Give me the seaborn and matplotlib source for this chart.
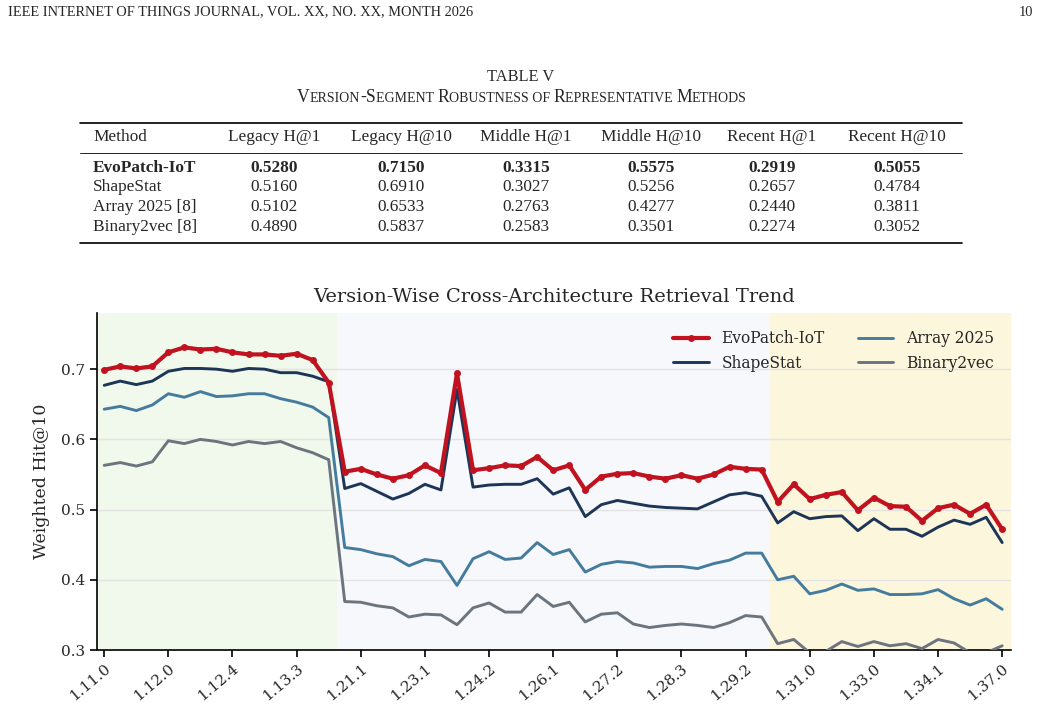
import numpy as np
import pandas as pd
import matplotlib
matplotlib.use("Agg")
import matplotlib.pyplot as plt
from matplotlib.lines import Line2D
import seaborn as sns

# ---- data ----
methods = ["EvoPatch-IoT", "ShapeStat", "Array 2025", "Binary2vec"]

evopatch = [0.699, 0.704, 0.701, 0.704, 0.724, 0.731, 0.728, 0.729, 0.724, 0.721, 0.721, 0.719, 0.722, 0.713, 0.681,
            0.554, 0.558, 0.550, 0.544, 0.549, 0.563, 0.552, 0.694, 0.556, 0.559, 0.563, 0.562, 0.575, 0.556, 0.563,
            0.528, 0.547, 0.551, 0.552, 0.547, 0.544, 0.549, 0.544, 0.550, 0.561, 0.558, 0.557,
            0.511, 0.536, 0.515, 0.521, 0.525, 0.499, 0.517, 0.505, 0.504, 0.484, 0.502, 0.507, 0.494, 0.507, 0.472]
shapestat = [0.677, 0.683, 0.678, 0.683, 0.697, 0.701, 0.701, 0.700, 0.697, 0.701, 0.700, 0.695, 0.695, 0.690, 0.682,
             0.530, 0.537, 0.526, 0.515, 0.523, 0.536, 0.528, 0.671, 0.532, 0.535, 0.536, 0.536, 0.544, 0.522, 0.531,
             0.490, 0.507, 0.513, 0.509, 0.505, 0.503, 0.502, 0.501, 0.511, 0.521, 0.524, 0.519,
             0.481, 0.497, 0.487, 0.490, 0.491, 0.470, 0.487, 0.472, 0.472, 0.462, 0.475, 0.485, 0.479, 0.489, 0.453]
array2025 = [0.643, 0.647, 0.641, 0.649, 0.665, 0.660, 0.668, 0.661, 0.662, 0.665, 0.665, 0.658, 0.653, 0.646, 0.631,
             0.446, 0.443, 0.437, 0.433, 0.420, 0.429, 0.426, 0.392, 0.430, 0.440, 0.429, 0.431, 0.453, 0.436, 0.443,
             0.411, 0.422, 0.426, 0.424, 0.418, 0.419, 0.419, 0.416, 0.423, 0.428, 0.438, 0.438,
             0.400, 0.405, 0.380, 0.385, 0.394, 0.385, 0.387, 0.379, 0.379, 0.380, 0.386, 0.373, 0.364, 0.373, 0.358]
binary2vec = [0.563, 0.567, 0.562, 0.568, 0.598, 0.594, 0.600, 0.597, 0.592, 0.597, 0.594, 0.597, 0.588, 0.581, 0.571,
              0.369, 0.368, 0.363, 0.360, 0.347, 0.351, 0.350, 0.336, 0.360, 0.367, 0.354, 0.354, 0.379, 0.362, 0.368,
              0.340, 0.351, 0.353, 0.337, 0.332, 0.335, 0.337, 0.335, 0.332, 0.339, 0.349, 0.347,
              0.309, 0.315, 0.296, 0.298, 0.312, 0.305, 0.312, 0.306, 0.309, 0.302, 0.315, 0.310, 0.296, 0.296, 0.306]

tick_labels = ["1.11.0", "1.12.0", "1.12.4", "1.13.3", "1.21.1", "1.23.1", "1.24.2", "1.26.1",
               "1.27.2", "1.28.3", "1.29.2", "1.31.0", "1.33.0", "1.34.1", "1.37.0"]
tick_step = 4
segment_edges = [14.5, 41.5]

table_header = ["Method", "Legacy H@1", "Legacy H@10", "Middle H@1", "Middle H@10", "Recent H@1", "Recent H@10"]
table_methods = ["EvoPatch-IoT", "ShapeStat", "Array 2025 [8]", "Binary2vec [8]"]
legacy_h1 = ["0.5280", "0.5160", "0.5102", "0.4890"]
legacy_h10 = ["0.7150", "0.6910", "0.6533", "0.5837"]
middle_h1 = ["0.3315", "0.3027", "0.2763", "0.2583"]
middle_h10 = ["0.5575", "0.5256", "0.4277", "0.3501"]
recent_h1 = ["0.2919", "0.2657", "0.2440", "0.2274"]
recent_h10 = ["0.5055", "0.4784", "0.3811", "0.3052"]

colors = ["#c1121f", "#1d3557", "#457b9d", "#6c757d"]
span_colors = ["#f1f8ec", "#f6f8fb", "#fcf6dc"]

W, H = 1041, 708
def fx(px):
    return px / W
def fy(py):
    return 1 - py / H

sns.set_theme(style="ticks")
plt.rcParams["font.family"] = ["DejaVu Serif"]

fig = plt.figure(figsize=(W / 100, H / 100), dpi=100)
times = "Liberation Serif"

# page header
fig.text(fx(8), fy(12), "IEEE INTERNET OF THINGS JOURNAL, VOL. XX, NO. XX, MONTH 2026",
         family=times, fontsize=10.4, ha="left", va="center")
fig.text(fx(1033), fy(12), "10", family=times, fontsize=10.4, ha="right", va="center")

# table caption (small caps built from pieces)
fig.text(fx(521), fy(77), "TABLE V", family=times, fontsize=11.8, ha="center", va="center")
pieces = [("V", 12.7), ("ERSION", 10.0), ("-", 12.7), ("S", 12.7), ("EGMENT ", 10.0), ("R", 12.7),
          ("OBUSTNESS OF ", 10.0), ("R", 12.7), ("EPRESENTATIVE ", 10.0), ("M", 12.7), ("ETHODS", 10.0)]
fig.canvas.draw()
renderer = fig.canvas.get_renderer()
cap_x = 297
for txt, sz in pieces:
    t = fig.text(fx(cap_x), fy(102), txt, family=times, fontsize=sz, ha="left", va="baseline")
    cap_x += t.get_window_extent(renderer=renderer).width

# table body
rules = [(123, 1.2), (153, 0.6), (243, 1.2)]
for y, lw in rules:
    fig.add_artist(Line2D([fx(80), fx(962)], [fy(y), fy(y)], color="black", lw=lw))

col_x = [93, 274, 401, 526, 651, 772, 897]
tsize = 12.4
fig.text(fx(col_x[0]), fy(137), table_header[0], family=times, fontsize=tsize, ha="left", va="center")
for cx, head in zip(col_x[1:], table_header[1:]):
    fig.text(fx(cx), fy(137), head, family=times, fontsize=tsize, ha="center", va="center")
row_y = [168, 187, 207, 227]
columns = [legacy_h1, legacy_h10, middle_h1, middle_h10, recent_h1, recent_h10]
for i, (ry, name) in enumerate(zip(row_y, table_methods)):
    weight = "bold" if i == 0 else "normal"
    fig.text(fx(col_x[0]), fy(ry), name, family=times, fontsize=tsize, ha="left", va="center", weight=weight)
    for cx, col in zip(col_x[1:], columns):
        fig.text(fx(cx), fy(ry), col[i], family=times, fontsize=tsize, ha="center", va="center", weight=weight)

# ---- chart ----
ax = fig.add_axes([fx(97), fy(650), fx(1011) - fx(97), fy(313) - fy(650)])
idx = np.arange(len(evopatch))
xmin, xmax = -0.45, 56.55
ax.axvspan(xmin, segment_edges[0], color=span_colors[0], lw=0, zorder=0)
ax.axvspan(segment_edges[0], segment_edges[1], color=span_colors[1], lw=0, zorder=0)
ax.axvspan(segment_edges[1], xmax, color=span_colors[2], lw=0, zorder=0)

series = [evopatch, shapestat, array2025, binary2vec]
for k, (name, vals) in enumerate(zip(methods, series)):
    if k == 0:
        sns.lineplot(x=idx, y=vals, ax=ax, color=colors[k], lw=3, marker="o", markersize=5,
                     markeredgewidth=0, label=name, zorder=5)
    else:
        sns.lineplot(x=idx, y=vals, ax=ax, color=colors[k], lw=2.1, label=name, zorder=4 - k * 0.1)

ax.set_xlim(xmin, xmax)
ax.set_ylim(0.3, 0.78)
ax.set_yticks([0.3, 0.4, 0.5, 0.6, 0.7])
ax.grid(axis="y", color="#e3e3e3", lw=1)
ax.set_axisbelow(True)
ax.set_xticks(idx[::tick_step])
ax.set_xticklabels(tick_labels, rotation=40, ha="right", rotation_mode="anchor", fontsize=11)
ax.tick_params(axis="y", labelsize=11)
ax.tick_params(direction="out", length=5, width=1.2, color="black")
for s in ["left", "bottom"]:
    ax.spines[s].set_linewidth(1.2)
    ax.spines[s].set_color("black")
sns.despine(ax=ax)
ax.set_xlabel("")
ax.set_ylabel("Weighted Hit@10", fontsize=12.5, labelpad=8)
ax.set_title("Version-Wise Cross-Architecture Retrieval Trend", fontsize=14, pad=8)
ax.legend(loc="upper right", ncol=2, frameon=False, fontsize=11.2, handlelength=2.3,
          columnspacing=2.1, borderaxespad=0.7, labelspacing=0.5)

fig.savefig("out.png", dpi=100)
